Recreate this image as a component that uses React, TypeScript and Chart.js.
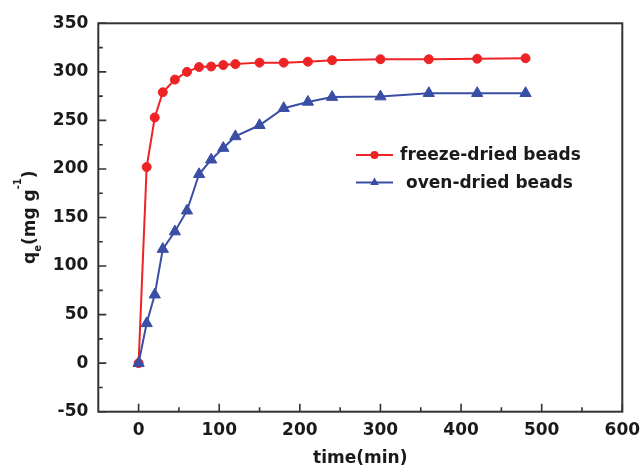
import React, { useEffect, useRef } from "react";
import { Chart, registerables } from "chart.js";

Chart.register(...registerables);

// ---- data ----
const times = [0, 10, 20, 30, 45, 60, 75, 90, 105, 120, 150, 180, 210, 240, 300, 360, 420, 480];
const freezeDried = [0, 202, 253, 279, 292, 300, 305, 305.5, 307, 308, 309.5, 309.5, 310.5, 312, 313, 313, 313.5, 314];
const ovenDried = [0, 41, 70.5, 117.5, 135.5, 157, 194.5, 209.5, 221.5, 233.5, 245, 262.5, 269, 274, 274.5, 278, 278, 278];
const seriesLabels = ["freeze-dried beads", "oven-dried beads"];
const xTicks = [0, 100, 200, 300, 400, 500, 600];
const xMinorTicks = [50, 150, 250, 350, 450, 550];
const yTicks = [-50, 0, 50, 100, 150, 200, 250, 300, 350];
const yMinorTicks = [-25, 25, 75, 125, 175, 225, 275, 325];
const xTitle = "time(min)";

const RED = "#ee2326";
const BLUE = "#3a4ea5";
const FONT = "'DejaVu Sans', 'Liberation Sans', Arial, sans-serif";
const TEXT = "#1a1a1a";

const decorPlugin = {
  id: "decor",
  afterDraw(chart: any) {
    const { ctx, chartArea: a, scales } = chart;
    const x = scales.x;
    const y = scales.y;
    ctx.save();
    // frame
    ctx.strokeStyle = "#333";
    ctx.lineWidth = 2;
    ctx.strokeRect(a.left, a.top, a.right - a.left, a.bottom - a.top);
    // ticks (inward)
    ctx.lineWidth = 1.6;
    ctx.beginPath();
    xTicks.forEach((v) => {
      const px = x.getPixelForValue(v);
      ctx.moveTo(px, a.bottom);
      ctx.lineTo(px, a.bottom - 8);
    });
    xMinorTicks.forEach((v) => {
      const px = x.getPixelForValue(v);
      ctx.moveTo(px, a.bottom);
      ctx.lineTo(px, a.bottom - 4.5);
    });
    yTicks.forEach((v) => {
      const py = y.getPixelForValue(v);
      ctx.moveTo(a.left, py);
      ctx.lineTo(a.left + 8, py);
    });
    yMinorTicks.forEach((v) => {
      const py = y.getPixelForValue(v);
      ctx.moveTo(a.left, py);
      ctx.lineTo(a.left + 4.5, py);
    });
    ctx.stroke();

    // x title
    ctx.fillStyle = TEXT;
    ctx.font = `bold 17px ${FONT}`;
    ctx.textAlign = "center";
    ctx.textBaseline = "alphabetic";
    ctx.fillText(xTitle, (a.left + a.right) / 2, 463);

    // y title: q_e(mg g^-1), rotated
    ctx.save();
    ctx.translate(35, 264);
    ctx.rotate(-Math.PI / 2);
    ctx.textAlign = "left";
    let cx = 0;
    const seg = (t: string, size: number, dy: number) => {
      ctx.font = `bold ${size}px ${FONT}`;
      ctx.fillText(t, cx, dy);
      cx += ctx.measureText(t).width;
    };
    seg("q", 17, 0);
    seg("e", 10, 6);
    seg("(mg g", 17, 0);
    seg("-1", 10, -14);
    seg(")", 17, 0);
    ctx.restore();

    // legend
    const ds = chart.data.datasets;
    const rows = [
      { y: 155, tx: 400 },
      { y: 182.5, tx: 406 },
    ];
    rows.forEach((r, i) => {
      const d = ds[i];
      ctx.strokeStyle = d.borderColor;
      ctx.lineWidth = 2;
      ctx.beginPath();
      ctx.moveTo(356, r.y);
      ctx.lineTo(393, r.y);
      ctx.stroke();
      ctx.fillStyle = d.borderColor;
      ctx.beginPath();
      if (d.pointStyle === "triangle") {
        const rr = 5;
        ctx.moveTo(374.5, r.y - rr);
        ctx.lineTo(374.5 + rr * 0.866, r.y + rr / 2);
        ctx.lineTo(374.5 - rr * 0.866, r.y + rr / 2);
        ctx.closePath();
      } else {
        ctx.arc(374.5, r.y, 4, 0, Math.PI * 2);
      }
      ctx.fill();
      ctx.fillStyle = TEXT;
      ctx.font = `bold 17px ${FONT}`;
      ctx.textAlign = "left";
      ctx.textBaseline = "middle";
      ctx.fillText(d.label, r.tx, r.y + 1);
    });
    ctx.restore();
  },
};

export default function App() {
  const ref = useRef<HTMLCanvasElement | null>(null);
  useEffect(() => {
    if (!ref.current) return;
    const tickFont = { family: FONT, size: 17, weight: "bold" as const };
    const chart = new Chart(ref.current, {
      type: "line",
      data: {
        datasets: [
          {
            label: seriesLabels[0],
            data: times.map((t, i) => ({ x: t, y: freezeDried[i] })),
            borderColor: RED,
            backgroundColor: RED,
            borderWidth: 2,
            pointStyle: "circle",
            pointRadius: 4.5,
            pointBorderWidth: 1,
            pointBackgroundColor: RED,
            pointBorderColor: RED,
            tension: 0,
            order: 1,
          },
          {
            label: seriesLabels[1],
            data: times.map((t, i) => ({ x: t, y: ovenDried[i] })),
            borderColor: BLUE,
            backgroundColor: BLUE,
            borderWidth: 2,
            pointStyle: "triangle",
            pointRadius: 6.5,
            pointBorderWidth: 1,
            pointBackgroundColor: BLUE,
            pointBorderColor: BLUE,
            tension: 0,
            order: 0,
          },
        ],
      },
      options: {
        animation: false,
        responsive: false,
        layout: { padding: { left: 8.3, right: 17.7, top: 23.3, bottom: 7.3 } },
        plugins: { legend: { display: false }, tooltip: { enabled: false } },
        scales: {
          x: {
            type: "linear",
            min: -50,
            max: 600,
            afterBuildTicks: (s: any) => {
              s.ticks = xTicks.map((v) => ({ value: v }));
            },
            afterFit: (s: any) => {
              s.height = 50;
              s.paddingLeft = 0;
              s.paddingRight = 0;
            },
            grid: { display: false, drawTicks: false },
            border: { display: false },
            ticks: { padding: 9, font: tickFont, color: TEXT, maxRotation: 0, autoSkip: false },
          },
          y: {
            type: "linear",
            min: -50,
            max: 350,
            afterBuildTicks: (s: any) => {
              s.ticks = yTicks.map((v) => ({ value: v }));
            },
            afterFit: (s: any) => {
              s.width = 90;
              s.paddingTop = 0;
              s.paddingBottom = 0;
            },
            grid: { display: false, drawTicks: false },
            border: { display: false },
            ticks: { padding: 10, font: tickFont, color: TEXT, autoSkip: false },
          },
        },
      },
      plugins: [decorPlugin],
    });
    return () => chart.destroy();
  }, []);
  return (
    <div style={{ position: "fixed", left: 0, top: 0, width: 640, height: 469, background: "#fff" }}>
      <canvas ref={ref} width={640} height={469} style={{ display: "block" }} />
    </div>
  );
}
